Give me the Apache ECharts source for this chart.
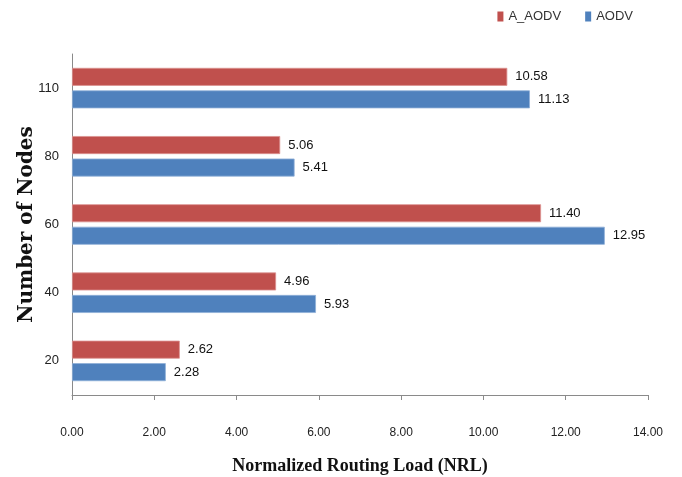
<!DOCTYPE html>
<html>
<head>
<meta charset="utf-8">
<script src="https://cdn.jsdelivr.net/npm/echarts@6/dist/echarts.min.js"></script>
<style>
  html, body { margin: 0; padding: 0; background: #fff; }
  #chart { width: 682px; height: 477px; }
</style>
</head>
<body>
<div id="chart"></div>
<script>
var nodes = ['20', '40', '60', '80', '110'];
var aAodv = [2.62, 4.96, 11.40, 5.06, 10.58];
var aodv = [2.28, 5.93, 12.95, 5.41, 11.13];
var xTicks = [0, 2, 4, 6, 8, 10, 12, 14];

var sans = '"Liberation Sans", Arial, sans-serif';

var chart = echarts.init(document.getElementById('chart'));

var labelOpt = {
    show: true,
    position: 'right',
    distance: 8,
    color: '#111',
    fontFamily: sans,
    fontSize: 13,
    formatter: function (p) { return p.value.toFixed(2); }
};

chart.setOption({
    animation: false,
    legend: {
        data: ['A_AODV', 'AODV'],
        right: 44,
        top: 5,
        itemWidth: 6,
        itemHeight: 10,
        itemGap: 24,
        icon: 'rect',
        itemStyle: { borderWidth: 0 },
        textStyle: { fontFamily: sans, fontSize: 13, color: '#333' }
    },
    grid: { left: 72, right: 34, top: 54, bottom: 82, outerBoundsMode: 'none' },
    xAxis: {
        type: 'value',
        min: xTicks[0],
        max: xTicks[xTicks.length - 1],
        interval: 2,
        name: 'Normalized Routing Load (NRL)',
        nameLocation: 'middle',
        nameGap: 62,
        nameTextStyle: { fontFamily: '"Liberation Serif", serif', fontWeight: 'bold', fontSize: 18, color: '#111' },
        axisLine: { show: true, lineStyle: { color: '#8a8a8a' } },
        axisTick: { show: true, length: 5, lineStyle: { color: '#8a8a8a' } },
        axisLabel: {
            margin: 32,
            fontFamily: sans,
            fontSize: 12,
            color: '#222',
            formatter: function (v) { return v.toFixed(2); }
        },
        splitLine: { show: false }
    },
    yAxis: {
        type: 'category',
        data: nodes,
        name: 'Number of Nodes',
        nameLocation: 'middle',
        nameGap: 35,
        nameMoveOverlap: false,
        nameTextStyle: { fontFamily: '"DejaVu Serif", serif', fontWeight: 'bold', fontSize: 20, color: '#111' },
        axisLine: { show: true, lineStyle: { color: '#8a8a8a' } },
        axisTick: { show: false },
        axisLabel: { margin: 13, fontFamily: sans, fontSize: 13, color: '#222' }
    },
    series: [
        {
            name: 'A_AODV',
            type: 'bar',
            data: aAodv,
            barWidth: 18,
            barGap: '25%',
            itemStyle: { color: '#c0504d', borderColor: '#dc9290', borderWidth: 0.8 },
            label: labelOpt
        },
        {
            name: 'AODV',
            type: 'bar',
            data: aodv,
            barWidth: 18,
            barGap: '25%',
            itemStyle: { color: '#4f81bd', borderColor: '#8fb0d8', borderWidth: 0.8 },
            label: labelOpt
        }
    ]
});
</script>
</body>
</html>
